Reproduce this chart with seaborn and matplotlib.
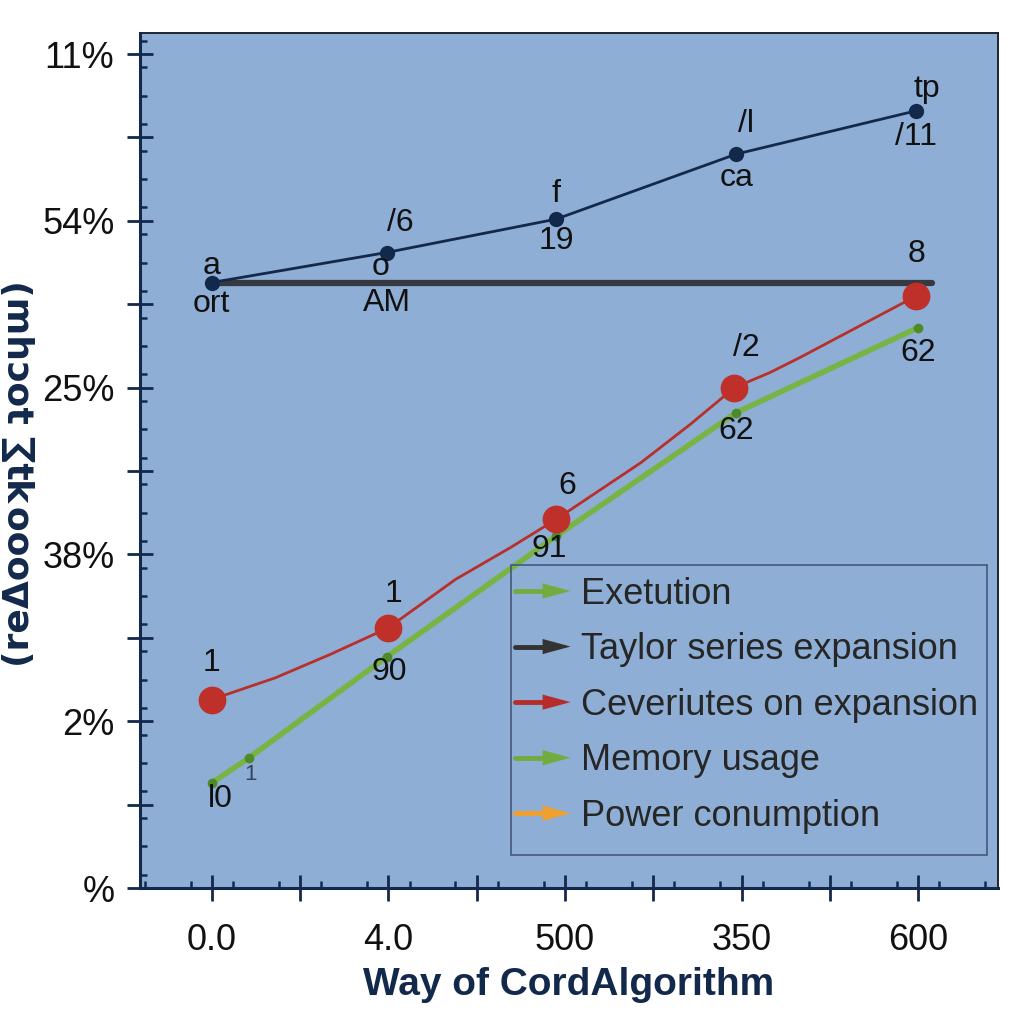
import numpy as np
import matplotlib
matplotlib.use("Agg")
import matplotlib.pyplot as plt
import seaborn as sns
from matplotlib.lines import Line2D
from matplotlib.patches import Polygon, Rectangle
from matplotlib.legend_handler import HandlerBase

# -- Data --
x_tick_labels = ["0.0", "4.0", "500", "350", "600"]
y_tick_labels = ["%", "2%", "38%", "25%", "54%", "11%"]

navy_x = [0.0, 0.99, 1.95, 2.97, 3.99]
navy_y = [3.63, 3.81, 4.01, 4.40, 4.66]
navy_above = ["a", "/6", "f", "/l", "tp"]
navy_below = ["ort", "AM", "19", "ca", "/11"]

taylor_x = [0.0, 4.08]
taylor_y = [3.63, 3.63]

red_x = [0.0, 1.0, 1.95, 2.96, 3.99]
red_y = [1.13, 1.56, 2.21, 3.00, 3.55]
red_path_x = [0.0, 0.36, 0.67, 1.0, 1.38, 1.69, 1.95, 2.43, 2.71, 2.96, 3.16, 3.33, 3.99]
red_path_y = [1.13, 1.26, 1.40, 1.56, 1.85, 2.04, 2.21, 2.55, 2.78, 3.00, 3.09, 3.18, 3.55]
red_above = ["1", "1", "6", "/2"]

green_x = [0.0, 0.21, 0.99, 1.95, 2.97, 4.0]
green_y = [0.63, 0.78, 1.385, 2.11, 2.85, 3.36]
green_below = ["l0", "1", "90", "91", "62", "62"]

legend_labels = ["Exetution", "Taylor series expansion", "Ceveriutes on expansion",
                 "Memory usage", "Power conumption"]
legend_colors = ["#72ac3e", "#333333", "#b52d2a", "#72ac3e", "#f0a02c"]

NAVY = "#13294b"
RED = "#b8302b"
GREEN = "#78b444"
BG = "#8eaed5"


class ArrowHandler(HandlerBase):
    """Legend key drawn as a short arrow."""

    def create_artists(self, legend, orig_handle, xdescent, ydescent,
                       width, height, fontsize, trans):
        c = orig_handle.get_color()
        y = height / 2 - ydescent
        x0 = -xdescent
        line = Line2D([x0, x0 + width * 0.6], [y, y], color=c, lw=3.5,
                      transform=trans)
        head = Polygon([[x0 + width * 0.5, y + height * 0.3],
                        [x0 + width, y],
                        [x0 + width * 0.5, y - height * 0.3]],
                       closed=True, facecolor=c, edgecolor="none", transform=trans)
        return [line, head]


def main():
    sns.set_style("ticks")
    plt.rcParams["font.family"] = ["Liberation Sans", "DejaVu Sans"]

    fig = plt.figure(figsize=(10.24, 10.24), dpi=100)
    ax = fig.add_axes([140 / 1024, 1 - 888 / 1024, 858 / 1024, 855 / 1024])
    ax.set_facecolor(BG)

    # lines
    sns.lineplot(x=taylor_x, y=taylor_y, ax=ax, color="#363a40", lw=4.5, sort=False)
    sns.lineplot(x=navy_x, y=navy_y, ax=ax, color=NAVY, lw=2, marker="o",
                 markersize=11, markeredgewidth=0, sort=False)
    sns.lineplot(x=green_x, y=green_y, ax=ax, color=GREEN, lw=4, marker="o",
                 markersize=7, markerfacecolor="#4f8a2a", markeredgewidth=0, sort=False)
    sns.lineplot(x=red_path_x, y=red_path_y, ax=ax, color=RED, lw=2, sort=False)
    sns.scatterplot(x=red_x, y=red_y, ax=ax, color="#c0302a", s=400, linewidth=0, zorder=5)

    # point labels
    fs = 23
    kw = dict(textcoords="offset pixels", ha="center", va="center", fontsize=fs, color="#111111")
    above_off = [(0, 17), (14, 30), (0, 25), (10, 30), (10, 22)]
    below_off = [(0, -21), (0, -50), (0, -22), (0, -24), (0, -26)]
    for i in range(len(navy_x)):
        ax.annotate(navy_above[i], (navy_x[i], navy_y[i]), xytext=above_off[i], **kw)
        ax.annotate(navy_below[i], (navy_x[i], navy_y[i]), xytext=below_off[i], **kw)
    ax.annotate("o", (navy_x[1], navy_y[1]), xytext=(-6, -14), **kw)
    ax.annotate("8", (navy_x[4], taylor_y[0]), xytext=(0, 29), **kw)

    red_off = [(0, 37), (5, 34), (11, 33), (12, 40)]
    for i, lab in enumerate(red_above):
        ax.annotate(lab, (red_x[i], red_y[i]), xytext=red_off[i], **kw)

    green_off = [(9, -16), (2, -17), (3, -15), (-7, -13), (0, -18), (0, -25)]
    for i, lab in enumerate(green_below):
        if i == 1:
            ax.annotate(lab, (green_x[i], green_y[i]), xytext=green_off[i],
                        textcoords="offset pixels", ha="center", va="center",
                        fontsize=16, color="#34465e")
        else:
            ax.annotate(lab, (green_x[i], green_y[i]), xytext=green_off[i], **kw)

    # axes limits and ticks
    ax.set_xlim(-0.406, 4.452)
    ax.set_ylim(0, 5.126)

    x_major = [0, 0.5, 1, 1.5, 2, 2.5, 3, 3.5, 4]
    x_lab = []
    for v in x_major:
        x_lab.append(x_tick_labels[int(v)] if float(v).is_integer() else "")
    ax.set_xticks(x_major, x_lab)
    x_minor = [b + f for b in range(-1, 5) for f in (0.12, 0.38, 0.62, 0.88)]
    ax.set_xticks([v for v in x_minor if -0.4 < v < 4.45], minor=True)

    y_major = [0, 0.5, 1, 1.5, 2, 2.5, 3, 3.5, 4, 4.5, 5]
    y_lab = []
    for v in y_major:
        y_lab.append(y_tick_labels[int(v)] if float(v).is_integer() else "")
    ax.set_yticks(y_major, y_lab)
    y_minor = [b + f for b in range(0, 6) for f in (0.08, 0.25, 0.42, 0.58, 0.75, 0.92)]
    ax.set_yticks([v for v in y_minor if v < 5.1], minor=True)

    ax.tick_params(axis="both", which="major", direction="inout", length=19,
                   width=2, color=NAVY, labelsize=26, labelcolor="#111111")
    ax.tick_params(axis="x", which="major", pad=16)
    ax.tick_params(axis="y", which="major", pad=9)
    ax.tick_params(axis="both", which="minor", direction="in", length=5,
                   width=1.8, color=NAVY)

    for side in ["left", "bottom"]:
        ax.spines[side].set_linewidth(2.2)
        ax.spines[side].set_color(NAVY)
    for side in ["top", "right"]:
        ax.spines[side].set_linewidth(1.4)
        ax.spines[side].set_color("#1d2533")

    ax.set_xlabel("Way of CordAlgorithm", fontsize=28, fontweight="bold", color=NAVY)
    ax.xaxis.set_label_coords(0.5, -0.092)
    ax.set_ylabel("(reΔoooʞʇ∑ ʇocɥɯ)", fontsize=26, fontweight="bold", color=NAVY,
                  family=["DejaVu Sans"])
    ax.yaxis.set_label_coords(-0.121, 0.485)

    # legend frame drawn by hand (taller padding at the bottom)
    ax_w, ax_h = 858.0, 855.0
    frame = Rectangle(((511 - 140) / ax_w, (888 - 855) / ax_h),
                      476 / ax_w, 290 / ax_h, transform=ax.transAxes,
                      facecolor="none", edgecolor="#44587a", lw=1.2, zorder=6)
    ax.add_patch(frame)

    handles = [Line2D([], [], color=c) for c in legend_colors]
    ax.legend(handles, legend_labels, loc="upper left",
              bbox_to_anchor=((511 - 140) / ax_w, (888 - 573) / ax_h),
              fontsize=26, frameon=False,
              handlelength=1.55, handletextpad=0.3, labelspacing=0.57,
              borderpad=0.1, borderaxespad=0,
              handler_map={Line2D: ArrowHandler()})

    fig.savefig("out.png", dpi=100, facecolor="white")
    plt.close()


if __name__ == "__main__":
    main()
